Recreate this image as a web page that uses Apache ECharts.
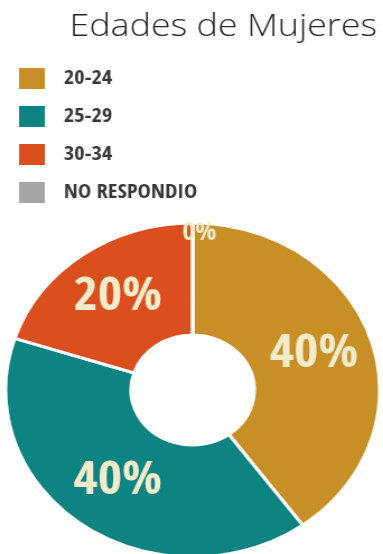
<!DOCTYPE html>
<html>
<head>
<meta charset="utf-8">
<script src="https://cdn.jsdelivr.net/npm/echarts@6/dist/echarts.min.js"></script>
<style>
  html, body { margin: 0; padding: 0; background: #fff; overflow: hidden; }
  #wrap { position: relative; width: 383px; height: 554px; overflow: hidden; }
  /* the whole graphic is widened a little, so the ring reads as an ellipse */
  #chart { position: absolute; left: 0; top: 0; width: 342px; height: 554px;
           transform: scaleX(1.12); transform-origin: 0 0; }
</style>
</head>
<body>
<div id="wrap"><div id="chart"></div></div>
<script>
const title = 'Edades de Mujeres';
const categories = ['20-24', '25-29', '30-34', 'NO RESPONDIO'];
const shares = [40, 40, 20, 0];
const colors = ['#C98F27', '#0E8482', '#DB4F1F', '#A6A6A6'];

const condensed = '"Open Sans Condensed", "Roboto Condensed", sans-serif';

const chart = echarts.init(document.getElementById('chart'), null, { renderer: 'canvas' });
chart.setOption({
  animation: false,
  color: colors,
  title: {
    text: title,
    left: 57,
    top: 6,
    textStyle: { fontFamily: '"Open Sans"', fontWeight: 300, fontSize: 32, color: '#262626' }
  },
  legend: {
    orient: 'vertical',
    left: 15,
    top: 66,
    padding: 0,
    itemWidth: 25,
    itemHeight: 23,
    itemGap: 13,
    icon: 'rect',
    selectedMode: false,
    data: categories,
    textStyle: {
      fontFamily: condensed,
      fontWeight: 'bold',
      fontSize: 20,
      lineHeight: 23,
      color: '#3a3536',
      padding: [0, 0, 0, 11]
    }
  },
  series: [{
    type: 'pie',
    center: [172, 390],
    radius: [55, 167],
    startAngle: 90,
    clockwise: true,
    silent: true,
    itemStyle: { borderColor: '#ffffff', borderWidth: 3 },
    label: {
      show: true,
      position: 'inside',
      formatter: '{d}%',
      color: '#F3ECCB',
      fontFamily: condensed,
      fontWeight: 'bold',
      fontSize: 47
    },
    labelLine: { show: false },
    data: categories.map((name, i) => {
      const item = { name: name, value: shares[i] };
      if (shares[i] === 0) item.label = { fontSize: 25, offset: [6, -43] };
      return item;
    })
  }]
});
</script>
</body>
</html>
